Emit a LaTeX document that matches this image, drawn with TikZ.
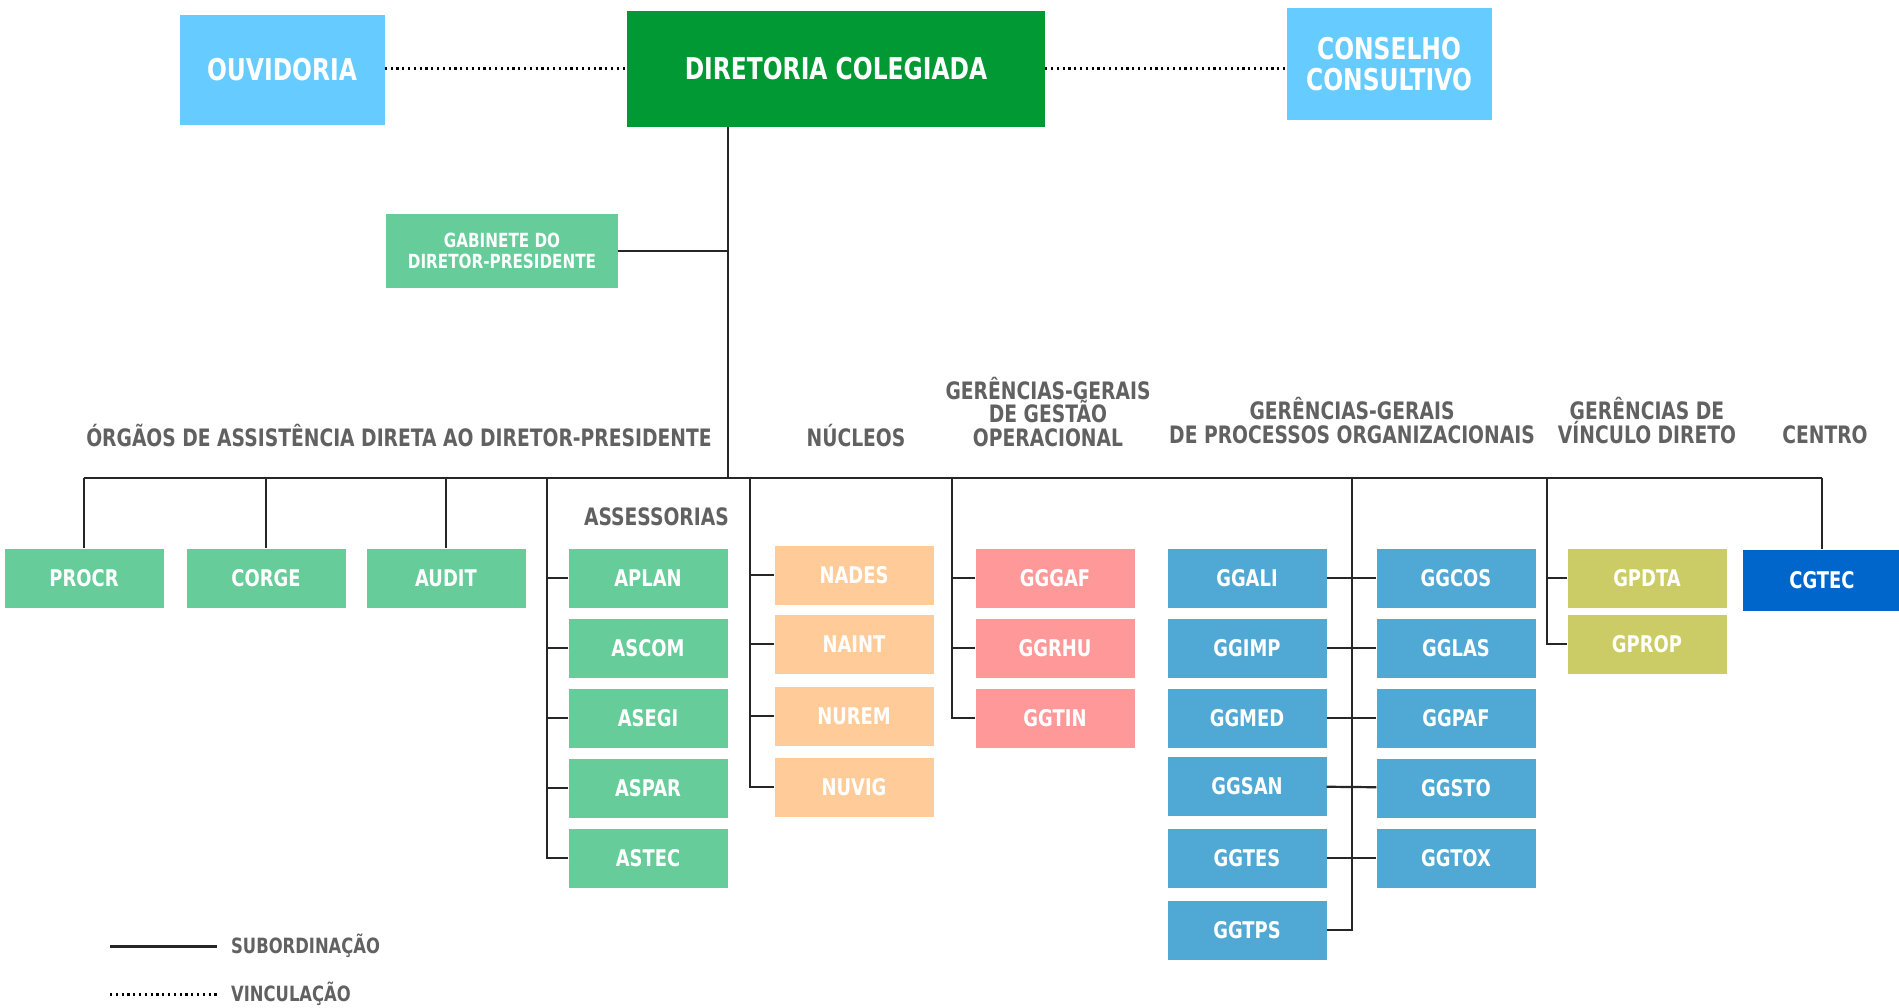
\documentclass[tikz,border=0pt]{standalone}
\usepackage{fontspec}
\setmainfont{DejaVu Sans}[FakeStretch=0.78]
\usepackage{xcolor}
\usepackage{tikz}
\usetikzlibrary{positioning}
\definecolor{ouvblue}{HTML}{66CCFF}
\definecolor{dirgreen}{HTML}{009933}
\definecolor{assgreen}{HTML}{66CC99}
\definecolor{nucorange}{HTML}{FFCC99}
\definecolor{gopink}{HTML}{FF9999}
\definecolor{poblue}{HTML}{50A8D4}
\definecolor{vdolive}{HTML}{CCCC66}
\definecolor{cenblue}{HTML}{0066CC}
\tikzstyle{bigbox}=[rectangle,inner sep=0pt,text=white,align=center,font=\fontsize{30}{31.5}\selectfont\bfseries]
\tikzstyle{smallbox}=[rectangle,inner sep=0pt,text=white,minimum width=159pt,minimum height=59pt,font=\fontsize{23}{24}\selectfont\bfseries]
\tikzstyle{edge} = [draw,line width=2.2pt,black!85]
\tikzstyle{dottededge} = [draw,line width=3pt,black,dash pattern=on 2.2pt off 3.6pt]
\tikzstyle{heading} = [inner sep=0pt,text=black!62,align=center,font=\fontsize{24}{23.6}\selectfont\bfseries]
\tikzset{legendtext/.style={inner sep=0pt,anchor=west,text=black!62,font=\fontsize{21}{22}\selectfont\bfseries}}

\begin{document}
\begin{tikzpicture}[x=1pt,y=-1pt]

  \path[fill=white,use as bounding box] (0,0) rectangle (1899,1008);

  % top level
  \node[bigbox,fill=ouvblue,minimum width=205pt,minimum height=110pt] (OUV) at (282,70) {OUVIDORIA};
  \node[bigbox,fill=dirgreen,minimum width=418pt,minimum height=116pt] (DIR) at (836,69) {DIRETORIA COLEGIADA};
  \node[bigbox,fill=ouvblue,minimum width=205pt,minimum height=112pt] (CONS) at (1389,64) {CONSELHO\\CONSULTIVO};
  \node[bigbox,fill=assgreen,minimum width=232pt,minimum height=74pt,font=\fontsize{19.5}{20.6}\selectfont\bfseries] (GAB) at (502,251) {GABINETE DO\\DIRETOR-PRESIDENTE};

  % headings
  \foreach \x/\y/\name/\label in {399/447/hOrg/{ÓRGÃOS DE ASSISTÊNCIA DIRETA AO DIRETOR-PRESIDENTE}, 856/447/hNuc/{NÚCLEOS}, 1048/447/hGO/{GERÊNCIAS-GERAIS\\DE GESTÃO\\OPERACIONAL}, 1352/444/hPO/{GERÊNCIAS-GERAIS\\DE PROCESSOS ORGANIZACIONAIS}, 1647/444/hVD/{GERÊNCIAS DE\\VÍNCULO DIRETO}, 1825/444/hCen/{CENTRO}}
          \node[heading,anchor=south] (\name) at (\x,\y) {\label};
  \node[heading,anchor=east] (hAss) at (729,517) {ASSESSORIAS};

  % units
  \foreach \x/\y/\name/\label in {84/578/PROCR/PROCR, 266/578/CORGE/CORGE, 446/578/AUDIT/AUDIT, 648/578/APLAN/APLAN, 648/648/ASCOM/ASCOM, 648/718/ASEGI/ASEGI, 648/788/ASPAR/ASPAR, 648/858/ASTEC/ASTEC}
          \node[smallbox,fill=assgreen] (\name) at (\x,\y) {\label};

  \foreach \x/\y/\name/\label in {854/575/NADES/NADES, 854/644/NAINT/NAINT, 854/716/NUREM/NUREM, 854/787/NUVIG/NUVIG}
          \node[smallbox,fill=nucorange] (\name) at (\x,\y) {\label};

  \foreach \x/\y/\name/\label in {1055/578/GGGAF/GGGAF, 1055/648/GGRHU/GGRHU, 1055/718/GGTIN/GGTIN}
          \node[smallbox,fill=gopink] (\name) at (\x,\y) {\label};

  \foreach \x/\y/\name/\label in {1247/578/GGALI/GGALI, 1247/648/GGIMP/GGIMP, 1247/718/GGMED/GGMED, 1247/786/GGSAN/GGSAN, 1247/858/GGTES/GGTES, 1247/930/GGTPS/GGTPS, 1456/578/GGCOS/GGCOS, 1456/648/GGLAS/GGLAS, 1456/718/GGPAF/GGPAF, 1456/788/GGSTO/GGSTO, 1456/858/GGTOX/GGTOX}
          \node[smallbox,fill=poblue] (\name) at (\x,\y) {\label};

  \foreach \x/\y/\name/\label in {1647/578/GPDTA/GPDTA, 1647/644/GPROP/GPROP}
          \node[smallbox,fill=vdolive] (\name) at (\x,\y) {\label};

  \node[smallbox,fill=cenblue,minimum height=61pt] (CGTEC) at (1822,580) {CGTEC};

  % bus and junctions
  \coordinate (trunk) at (728,478);
  \foreach \name/\x in {jAS/547, jNU/750, jGO/952, jPO/1352, jVD/1547}
          \coordinate (\name) at (\x,478);

  \path[dottededge] (OUV.east |- DIR.west) -- (DIR.west);
  \path[dottededge] (DIR.east) -- (DIR.east -| CONS.west);

  \path[edge] (DIR.south -| trunk) -- (trunk);
  \path[edge] (GAB.east) -- (GAB.east -| trunk);
  \path[edge] (PROCR.north |- trunk) -- (CGTEC.north |- trunk);

  \foreach \name in {PROCR,CORGE,AUDIT,CGTEC}
         \path[edge] (\name.north |- trunk) -- (\name.north);

  \foreach \source/\dest in {APLAN/jAS, ASCOM/jAS, ASEGI/jAS, ASPAR/jAS, ASTEC/jAS, NADES/jNU, NAINT/jNU, NUREM/jNU, NUVIG/jNU, GGGAF/jGO, GGRHU/jGO, GGTIN/jGO, GPDTA/jVD, GPROP/jVD}
         \path[edge] (\source.west) -| (\dest);

  \foreach \source/\dest in {GGALI/GGCOS, GGIMP/GGLAS, GGMED/GGPAF, GGSAN/GGSTO, GGTES/GGTOX}
         \path[edge] (\source) -- (\dest);
  \path[edge] (GGTPS.east) -| (jPO);

  % legend
  \coordinate (subA) at (110,946);
  \coordinate (subB) at (217,946);
  \coordinate (vinA) at (110,994);
  \coordinate (vinB) at (217,994);
  \path[edge,line width=3pt] (subA) -- (subB);
  \path[dottededge] (vinA) -- (vinB);
  \node[legendtext] (subTxt) at (231,946) {SUBORDINAÇÃO};
  \node[legendtext] (vinTxt) at (231,994) {VINCULAÇÃO};

\end{tikzpicture}
\end{document}
